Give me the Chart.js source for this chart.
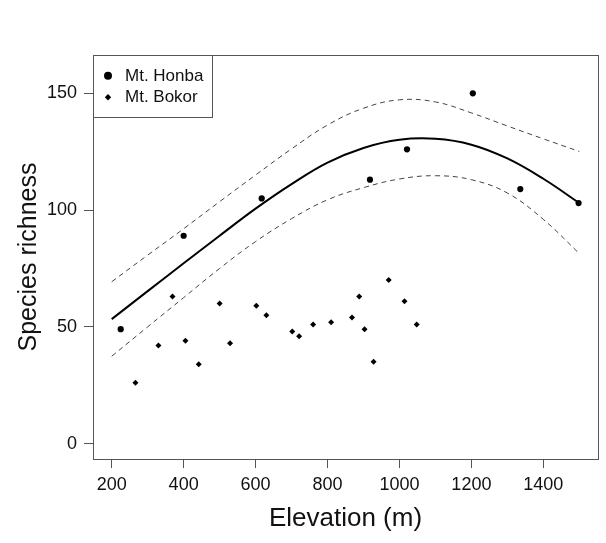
<!DOCTYPE html>
<html>
<head>
<meta charset="utf-8">
<script src="https://cdn.jsdelivr.net/npm/chart.js@4/dist/chart.umd.min.js"></script>
<style>
html,body{margin:0;padding:0;background:#fff;}
#c{display:block;}
</style>
</head>
<body>
<canvas id="c" width="606" height="543"></canvas>
<script>
// ---- data ----
const honbaX = [225, 400, 617, 918, 1021, 1204, 1336, 1498];
const honbaY = [49, 89, 105, 113, 126, 150, 109, 103];
const bokorX = [266, 330, 369, 405, 442, 500, 529, 602, 630, 702, 721, 760, 810, 868, 888, 903, 928, 970, 1014, 1048];
const bokorY = [26, 42, 63, 44, 34, 60, 43, 59, 55, 48, 46, 51, 52, 54, 63, 49, 35, 70, 61, 51];
const fitX   = [200, 300, 400, 500, 600, 700, 800, 900, 1000, 1100, 1200, 1300, 1400, 1500];
const fitY   = [53.3, 65.3, 77.2, 89, 100.6, 111.1, 120.3, 126.6, 130.1, 130.5, 128, 122.1, 113.4, 103];
const upperY = [69.3, 80.7, 92, 103.6, 115, 126.2, 136.4, 143.6, 147.2, 146.3, 141.6, 136, 130.5, 125.1];
const lowerY = [37.4, 50, 62.5, 75, 86.5, 96.3, 104.4, 109.6, 113.3, 114.7, 113, 107.3, 96, 81.4];
const xTicks = [200, 400, 600, 800, 1000, 1200, 1400];
const yTicks = [0, 50, 100, 150];
const seriesNames = ['Mt. Honba', 'Mt. Bokor'];
const xTitle = 'Elevation (m)';
const yTitle = 'Species richness';

const pts = (xs, ys) => xs.map((x, i) => ({x: x, y: ys[i]}));
const FONT = '"Liberation Sans", Arial, sans-serif';
const AXIS = '#555';

const boxPlugin = {
  id: 'boxLegend',
  afterDraw(chart) {
    const {ctx, chartArea: a} = chart;
    ctx.save();
    ctx.strokeStyle = AXIS;
    ctx.lineWidth = 1;
    ctx.strokeRect(Math.round(a.left) + 0.5, Math.round(a.top) + 0.5,
                   Math.round(a.right - a.left), Math.round(a.bottom - a.top));
    // legend box
    const lx = Math.round(a.left) + 0.5, ly = Math.round(a.top) + 0.5;
    ctx.fillStyle = '#fff';
    ctx.fillRect(lx, ly, 119, 62);
    ctx.strokeRect(lx, ly, 119, 62);
    ctx.fillStyle = '#000';
    // circle
    ctx.beginPath();
    ctx.arc(a.left + 15, a.top + 20.7, 4, 0, Math.PI * 2);
    ctx.fill();
    // diamond
    const dx = a.left + 15, dy = a.top + 42.3, r = 3.2;
    ctx.beginPath();
    ctx.moveTo(dx, dy - r); ctx.lineTo(dx + r, dy); ctx.lineTo(dx, dy + r); ctx.lineTo(dx - r, dy);
    ctx.closePath(); ctx.fill();
    ctx.font = '17px ' + FONT;
    ctx.textBaseline = 'middle';
    ctx.textAlign = 'left';
    ctx.fillStyle = '#111';
    ctx.fillText(seriesNames[0], a.left + 32, a.top + 21);
    ctx.fillText(seriesNames[1], a.left + 32, a.top + 42.5);
    ctx.restore();
  }
};

new Chart(document.getElementById('c'), {
  type: 'scatter',
  data: {
    datasets: [
      {label: 'fit', data: pts(fitX, fitY), showLine: true, borderColor: '#000', borderWidth: 2,
       pointRadius: 0, tension: 0.4, fill: false},
      {label: 'upper', data: pts(fitX, upperY), showLine: true, borderColor: '#444', borderWidth: 1,
       borderDash: [5, 4], pointRadius: 0, tension: 0.4, fill: false},
      {label: 'lower', data: pts(fitX, lowerY), showLine: true, borderColor: '#444', borderWidth: 1,
       borderDash: [5, 4], pointRadius: 0, tension: 0.4, fill: false},
      {label: seriesNames[0], data: pts(honbaX, honbaY), pointStyle: 'circle', pointRadius: 3.1,
       backgroundColor: '#000', borderColor: '#000', borderWidth: 0},
      {label: seriesNames[1], data: pts(bokorX, bokorY), pointStyle: 'rectRot', pointRadius: 3,
       backgroundColor: '#000', borderColor: '#000', borderWidth: 0}
    ]
  },
  options: {
    responsive: false,
    animation: false,
    layout: {padding: {top: 55, right: 8, left: 0, bottom: 0}},
    plugins: {legend: {display: false}, tooltip: {enabled: false}},
    scales: {
      x: {
        type: 'linear', min: 148, max: 1552,
        afterBuildTicks: s => { s.ticks = xTicks.map(v => ({value: v})); },
        afterFit: s => { s.height = 84; },
        grid: {drawOnChartArea: false, drawTicks: true, tickLength: 9, color: AXIS, lineWidth: 1},
        border: {display: false},
        ticks: {color: '#111', font: {family: FONT, size: 18}, padding: 6, maxRotation: 0,
                callback: v => String(v)},
        title: {display: true, text: xTitle, color: '#111', font: {family: FONT, size: 26}, padding: {top: 0, bottom: 9}}
      },
      y: {
        type: 'linear', min: -6.6, max: 166.4,
        afterBuildTicks: s => { s.ticks = yTicks.map(v => ({value: v})); },
        afterFit: s => { s.width = 93; },
        grid: {drawOnChartArea: false, drawTicks: true, tickLength: 9, color: AXIS, lineWidth: 1},
        border: {display: false},
        ticks: {color: '#111', font: {family: FONT, size: 18}, padding: 7, callback: v => String(v)},
        title: {display: true, text: yTitle, color: '#111', font: {family: FONT, size: 25, lineHeight: 1.2}, padding: {top: 14.6, bottom: 0}}
      }
    }
  },
  plugins: [boxPlugin]
});
</script>
</body>
</html>
